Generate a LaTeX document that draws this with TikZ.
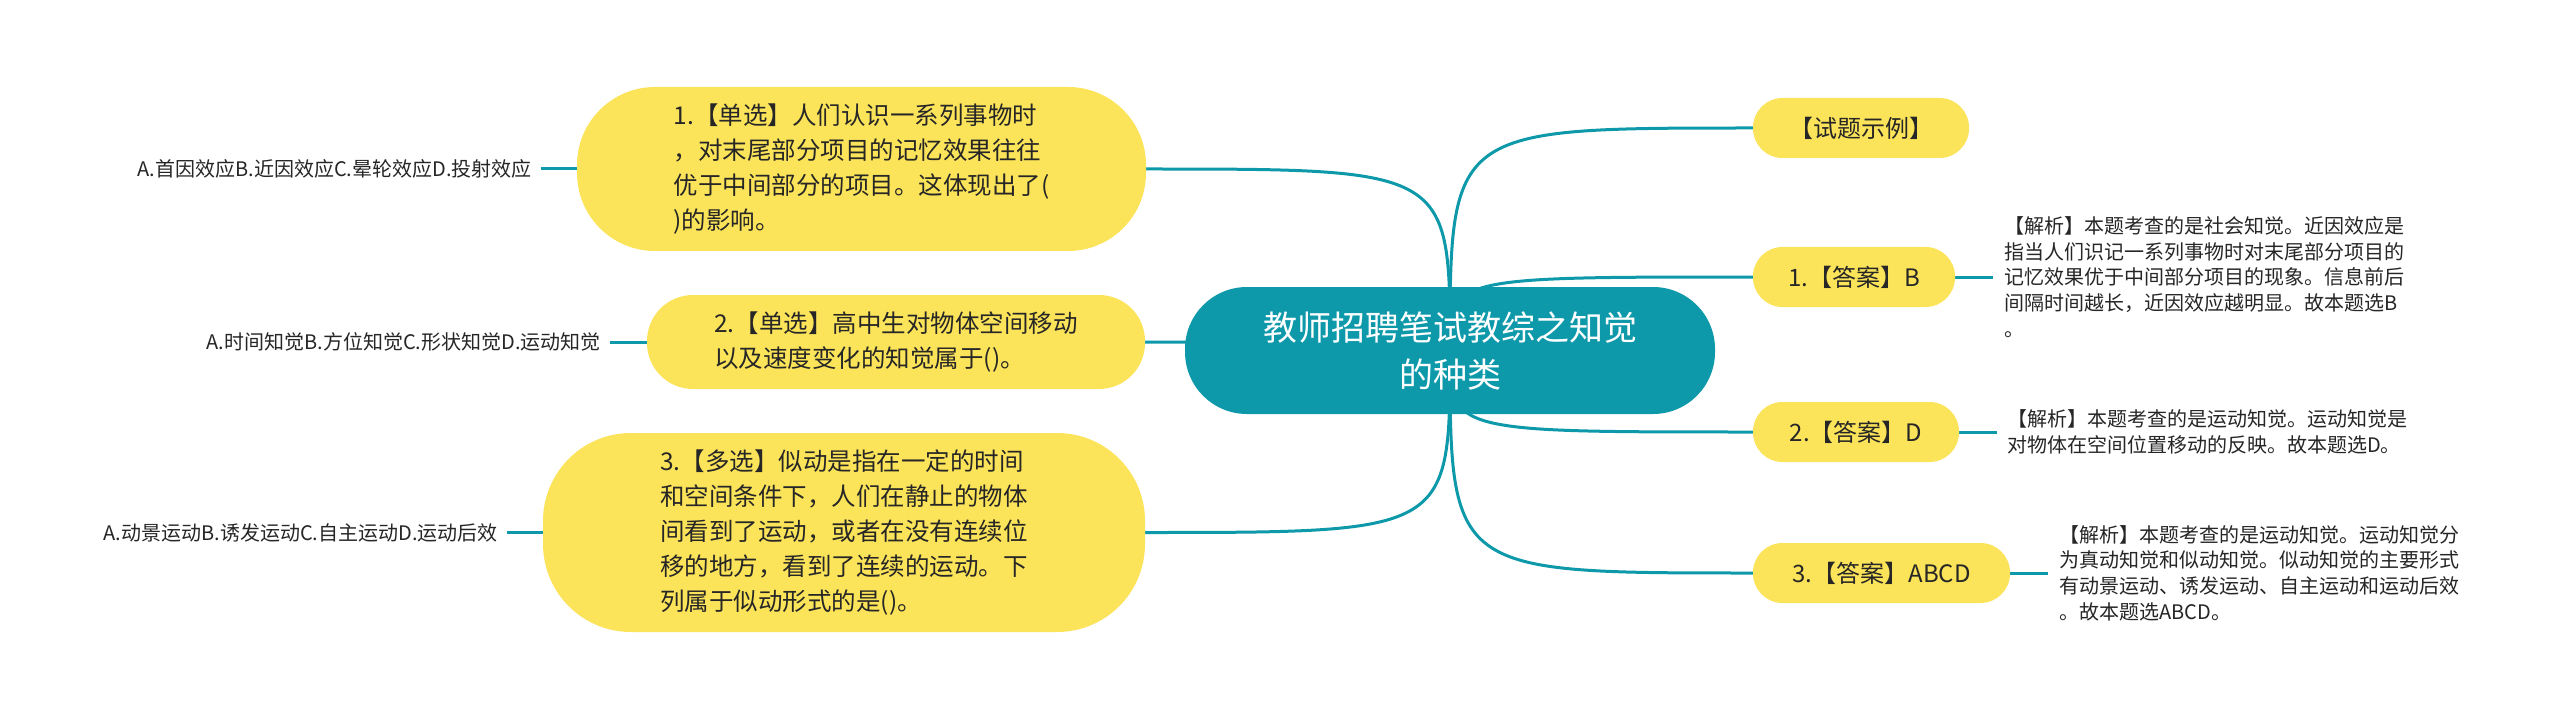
\documentclass[tikz,border=0pt]{standalone}
\usepackage{fontspec}
\newfontfamily\cjk{Noto Sans CJK SC}
\usetikzlibrary{backgrounds}
\definecolor{teal1}{HTML}{0E99AB}
\definecolor{yel}{HTML}{FCE45A}
\definecolor{ink}{HTML}{262626}
\begin{document}
\begin{tikzpicture}[x=1pt,y=-1pt,
  every node/.style={font=\cjk},
  pill/.style={fill=yel, text=ink, inner sep=0pt, align=left, font=\cjk\fontsize{24.5}{35}\selectfont},
  ans/.style={fill=yel, text=ink, inner sep=0pt, minimum height=60pt, rounded corners=29.5pt, font=\cjk\fontsize{24}{30}\selectfont},
  opt/.style={text=ink, anchor=east, inner xsep=9pt, font=\cjk\fontsize{20}{25.6}\selectfont},
  expl/.style={text=ink, anchor=west, inner xsep=11pt, align=left, font=\cjk\fontsize{20}{25.6}\selectfont},
  conn/.style={draw=teal1, line width=3pt},
]
\useasboundingbox (0,0) rectangle (2560,722);

% central topic
\node[fill=teal1, text=white, inner sep=0pt, minimum width=530pt, minimum height=127pt,
      rounded corners=62pt, align=center, font=\cjk\fontsize{34}{47}\selectfont]
  (c) at (1450,350.5) {教师招聘笔试教综之知觉\\的种类};

% left questions
\node[pill, minimum width=569pt, minimum height=164pt, rounded corners=78pt] (q1) at (861.5,169)
  {1.【单选】人们认识一系列事物时\\，对末尾部分项目的记忆效果往往\\优于中间部分的项目。这体现出了(\\)的影响。};
\node[pill, minimum width=498pt, minimum height=94pt, rounded corners=46pt] (q2) at (896,342)
  {2.【单选】高中生对物体空间移动\\以及速度变化的知觉属于()。};
\node[pill, minimum width=602pt, minimum height=199pt, rounded corners=88pt] (q3) at (844,532.5)
  {3.【多选】似动是指在一定的时间\\和空间条件下，人们在静止的物体\\间看到了运动，或者在没有连续位\\移的地方，看到了连续的运动。下\\列属于似动形式的是()。};

% options
\node[opt] (l1) at (541,169) {A.首因效应B.近因效应C.晕轮效应D.投射效应};
\node[opt] (l2) at (610,342) {A.时间知觉B.方位知觉C.形状知觉D.运动知觉};
\node[opt] (l3) at (507,532.5) {A.动景运动B.诱发运动C.自主运动D.运动后效};

% right answers
\node[ans, minimum width=216pt] (r0) at (1861,128) {【试题示例】};
\node[ans, minimum width=202pt] (r1) at (1854,277) {1.【答案】B};
\node[ans, minimum width=206pt] (r2) at (1856,432) {2.【答案】D};
\node[ans, minimum width=257pt] (r3) at (1881.5,573) {3.【答案】ABCD};

% explanations
\node[expl] (t1) at (1993,277) {【解析】本题考查的是社会知觉。近因效应是\\指当人们识记一系列事物时对末尾部分项目的\\记忆效果优于中间部分项目的现象。信息前后\\间隔时间越长，近因效应越明显。故本题选B\\。};
\node[expl, inner xsep=10pt] (t2) at (1997,432) {【解析】本题考查的是运动知觉。运动知觉是\\对物体在空间位置移动的反映。故本题选D。};
\node[expl] (t3) at (2048,573) {【解析】本题考查的是运动知觉。运动知觉分\\为真动知觉和似动知觉。似动知觉的主要形式\\有动景运动、诱发运动、自主运动和运动后效\\。故本题选ABCD。};

\begin{scope}[on background layer]
  \fill[white] (0,0) rectangle (2560,722);
  \draw[conn] (c.center) .. controls (c.center |- q1.east) .. (q1.east);
  \draw[conn] (c.center) .. controls (c.center |- q2.east) .. (q2.east);
  \draw[conn] (c.center) .. controls (c.center |- q3.east) .. (q3.east);
  \draw[conn] (c.center) .. controls (c.center |- r0.west) .. (r0.west);
  \draw[conn] (c.center) .. controls (c.center |- r1.west) .. (r1.west);
  \draw[conn] (c.center) .. controls (c.center |- r2.west) .. (r2.west);
  \draw[conn] (c.center) .. controls (c.center |- r3.west) .. (r3.west);
  \draw[conn] (l1.east) -- (q1.west);
  \draw[conn] (l2.east) -- (q2.west);
  \draw[conn] (l3.east) -- (q3.west);
  \draw[conn] (r1.east) -- (t1.west);
  \draw[conn] (r2.east) -- (t2.west);
  \draw[conn] (r3.east) -- (t3.west);
\end{scope}
\end{tikzpicture}
\end{document}
